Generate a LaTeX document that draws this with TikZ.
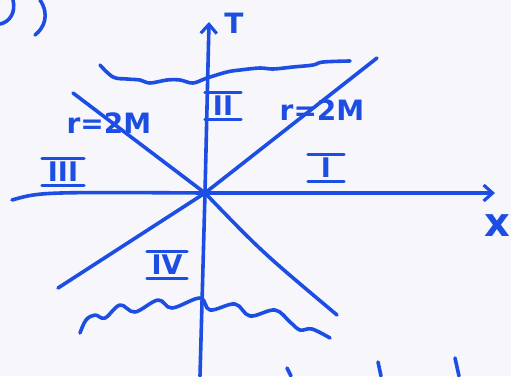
\documentclass[tikz,border=0pt]{standalone}
\usepackage{fontspec}
\setsansfont{DejaVu Sans}
\usetikzlibrary{arrows.meta}
\definecolor{ink}{RGB}{28,78,228}
\definecolor{paper}{RGB}{246,246,251}
\begin{document}
\begin{tikzpicture}[x=1pt,y=-1pt,
  pen/.style={draw=ink,line width=3.6pt,line cap=round,line join=round},
  axisarrow/.style={-{Straight Barb[length=9pt,width=16pt,line width=3.2pt]}},
  numeral/.style={text=ink,font=\sffamily\bfseries\fontsize{27}{27}\selectfont,inner sep=0pt,minimum width=36pt,minimum height=26pt},
  lab/.style={text=ink,inner sep=0pt}]
\fill[paper] (0,0) rectangle (511,376);
\useasboundingbox (0,0) rectangle (511,376);
% key points
\coordinate (O) at (205,193);
\coordinate (Tbot) at (200,376);
\coordinate (Ttop) at (209,22);
\coordinate (Xleft) at (12,200);
\coordinate (Xright) at (495,193);
\coordinate (Dur) at (377,58);
\coordinate (Dll) at (58,288);
\coordinate (Dul) at (73,93);
\coordinate (Dlr) at (337,315);
% axes
\draw[pen,axisarrow] (Tbot) -- (O) -- (Ttop);
\draw[pen,axisarrow] (Xleft) .. controls (40,192) .. (O) -- (Xright);
% horizons
\draw[pen] (Dll) -- (O) -- (Dur);
\draw[pen] (Dul) -- (O) .. controls (262,252) .. (Dlr);
% singularities
\draw[pen] plot[smooth,tension=0.6] coordinates {(100,65) (113,77) (127,79) (140,80) (150,83) (167,80) (180,80) (193,83) (207,78) (227,72) (240,70) (260,68) (273,69) (293,67) (313,65) (323,62) (350,61)};
\draw[pen] plot[smooth,tension=0.6] coordinates {(80,333) (86,320) (95,315) (105,318) (120,305) (135,312) (158,300) (172,308) (200,298) (210,310) (235,304) (250,316) (275,310) (290,322) (300,330) (312,329) (330,338)};
% labels
\node[lab,font=\sffamily\bfseries\fontsize{28}{28}\selectfont] (T) at (234,23) {T};
\node[lab,font=\sffamily\bfseries\fontsize{40}{40}\selectfont] (X) at (497,226) {x};
\node[lab,font=\sffamily\bfseries\fontsize{28}{28}\selectfont] (rL) at (109,123) {r=2M};
\node[lab,font=\sffamily\bfseries\fontsize{28}{28}\selectfont] (rR) at (322,110) {r=2M};
\node[numeral] (n1) at (326,168) {I};
\node[numeral] (n2) at (223,106) {II};
\node[numeral,minimum width=42pt] (n3) at (63,172) {III};
\node[numeral,minimum width=40pt] (n4) at (167,265) {IV};
\foreach \n in {n1,n2,n3,n4}{
  \draw[pen,line width=3pt] (\n.north west) -- (\n.north east);
  \draw[pen,line width=3pt] (\n.south west) -- (\n.south east);
}
% stray marks at the edges
\draw[pen] (40,0) .. controls (50,15) and (44,28) .. (35,35);
\draw[pen] (13,0) .. controls (16,12) and (10,22) .. (0,24);
\coordinate (m1) at (287,368); \coordinate (m1e) at (291,376);
\coordinate (m2) at (378,362); \coordinate (m2e) at (381,376);
\coordinate (m3) at (455,358); \coordinate (m3e) at (459,376);
\draw[pen] (m1) -- (m1e);
\draw[pen] (m2) -- (m2e);
\draw[pen] (m3) -- (m3e);
\end{tikzpicture}
\end{document}
